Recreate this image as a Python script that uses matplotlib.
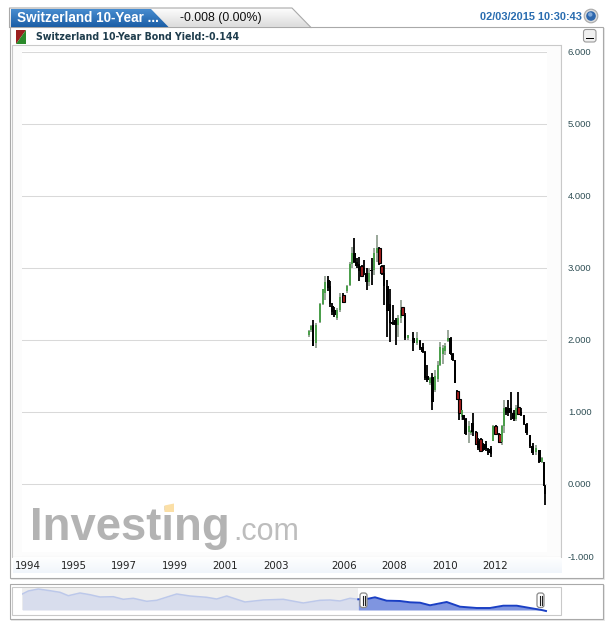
import numpy as np
import matplotlib
matplotlib.use('Agg')
import matplotlib.pyplot as plt
from matplotlib.patches import Rectangle, Polygon, Circle, FancyBboxPatch

W, H = 613, 627

# candle data, slot = horizontal position along the time axis
slots = [-0.7, 1, 3, 6, 10, 12.7, 15, 18.3, 20, 22.3, 24.3, 26.7, 30, 33.3, 36.7, 40, 42.3, 44.3, 46.7, 49,
         51.7, 54, 56.7, 59.3, 61.7, 64, 66.7, 69.3, 71.7, 74, 77.3, 80, 82.7, 85.7, 88.3, 91, 92.7, 95, 98.3, 103.3,
         106.7, 110, 112.7, 115, 117.3, 120, 122.3, 125, 127.7, 130, 132.7, 135, 138.3, 140.7, 142.7, 145, 147.3, 149.3, 151.7, 153.3,
         155.7, 159, 161, 162.7, 166, 168.3, 170.7, 173.3, 176, 178.3, 181, 183.3, 185.7, 189.3, 191.7, 193.7, 196, 198.3, 200.7, 203.7,
         206, 208.3, 211, 214, 216.7, 220, 222.7, 225.7, 229.3, 231.7, 234, 235]
highs = [2.14, 2.21, 2.28, 2.23, 2.51, 2.71, 2.88, 2.88, 2.81, 2.51, 2.46, 2.44, 2.65, 2.65, 2.76, 3.08, 3.29, 3.41, 3.13, 3.15,
         3.04, 3.11, 2.99, 2.99, 3.13, 3.27, 3.45, 3.29, 3.04, 3.04, 2.83, 2.71, 2.48, 2.30, 2.34, 2.55, 2.46, 2.37, 2.07, 2.11,
         2.11, 2.00, 1.95, 1.84, 1.65, 1.49, 1.54, 1.58, 1.70, 1.975, 1.93, 1.95, 2.14, 2.04, 1.81, 1.72, 1.31, 1.19, 1.03, 0.96,
         0.91, 0.87, 0.75, 0.98, 0.73, 0.635, 0.635, 0.57, 0.59, 0.50, 0.52, 0.82, 0.82, 0.70, 0.82, 1.17, 1.07, 1.17, 1.28, 1.03,
         1.10, 1.28, 1.05, 0.96, 0.84, 0.68, 0.57, 0.54, 0.47, 0.38, 0.31, -0.01]
lows = [2.04, 2.11, 1.93, 1.88, 2.23, 2.48, 2.55, 2.67, 2.46, 2.34, 2.32, 2.28, 2.39, 2.51, 2.65, 2.74, 3.00, 3.06, 2.99, 2.81,
        2.88, 2.90, 2.69, 2.74, 2.76, 2.90, 3.08, 3.04, 2.90, 2.48, 2.04, 1.97, 2.21, 1.93, 2.04, 2.23, 2.34, 2.00, 2.00, 1.84,
        1.93, 1.86, 1.81, 1.44, 1.42, 1.37, 1.03, 1.28, 1.42, 1.63, 1.67, 1.79, 1.975, 1.79, 1.70, 1.40, 1.17, 0.89, 0.89, 0.89,
        0.68, 0.57, 0.68, 0.66, 0.54, 0.47, 0.45, 0.45, 0.45, 0.40, 0.38, 0.59, 0.68, 0.57, 0.54, 0.70, 0.96, 0.94, 0.89, 0.87,
        0.87, 0.96, 0.94, 0.82, 0.68, 0.50, 0.40, 0.40, 0.29, 0.29, -0.035, -0.29]
opens = [2.07, 2.13, 2.20, 1.95, 2.25, 2.50, 2.65, 2.83, 2.75, 2.47, 2.42, 2.42, 2.42, 2.62, 2.67, 2.76, 3.05, 3.20, 3.08, 3.05,
         3.03, 3.00, 2.93, 2.80, 2.97, 2.97, 3.20, 3.28, 3.03, 2.92, 2.75, 2.50, 2.25, 2.28, 2.20, 2.30, 2.46, 2.35, 2.02, 2.02,
         1.95, 1.98, 1.90, 1.83, 1.50, 1.40, 1.49, 1.30, 1.45, 1.65, 1.80, 1.85, 1.98, 2.03, 1.80, 1.72, 1.29, 1.18, 0.93, 0.95,
         0.90, 0.72, 0.70, 0.85, 0.72, 0.60, 0.63, 0.55, 0.55, 0.49, 0.50, 0.60, 0.81, 0.69, 0.58, 0.80, 1.05, 1.05, 1.05, 0.98,
         0.90, 1.07, 1.00, 0.96, 0.83, 0.68, 0.52, 0.44, 0.47, 0.31, 0.31, -0.03]
closes = [2.12, 2.19, 1.92, 2.20, 2.50, 2.70, 2.80, 2.72, 2.50, 2.38, 2.35, 2.30, 2.60, 2.53, 2.74, 3.05, 3.20, 3.08, 3.03, 2.95,
          2.89, 2.93, 2.80, 2.92, 2.95, 3.20, 3.28, 3.06, 2.92, 2.75, 2.40, 2.23, 2.22, 2.20, 2.30, 2.42, 2.35, 2.03, 2.06, 1.95,
          2.03, 1.88, 1.83, 1.47, 1.44, 1.47, 1.14, 1.50, 1.65, 1.90, 1.88, 1.92, 2.03, 1.80, 1.72, 1.40, 1.18, 0.98, 1.02, 0.90,
          0.69, 0.80, 0.74, 0.72, 0.55, 0.50, 0.46, 0.47, 0.48, 0.43, 0.42, 0.80, 0.69, 0.58, 0.80, 1.05, 0.98, 0.98, 0.99, 0.90,
          1.05, 0.97, 0.96, 0.83, 0.70, 0.52, 0.43, 0.50, 0.31, 0.36, -0.03, -0.14]
kinds = list('ggkggggkkkkggrggg' 'kkkrkkgkggrrkkkkkggrkgkg' 'kkkkgkgggggg' 'kkkrrgkkggkrkrkkkkgrrggkkkkgrkkkkkgkgkk')

year_labels = ['1994', '1995', '1997', '1999', '2001', '2003', '2006', '2008', '2010', '2012']
year_slots = [-282, -236, -186, -135, -85, -34, 34, 84, 135, 185]
yield_ticks = [-1, 0, 1, 2, 3, 4, 5, 6]

# navigator strip: pixel column and height above its base
nav_x = [22.3, 28.3, 38.3, 50, 60, 68.3, 80, 90, 100, 113.3, 123.3, 133.3, 146.7, 156.7, 176.7, 190, 206.7, 216.7,
         226.7, 245, 263.3, 283.3, 303.3, 320, 330, 340, 350, 358.3, 368.3, 375, 386.7, 400, 410, 420, 430, 446.7,
         460, 476.7, 490, 503.3, 516.7, 530, 541.7, 546]
nav_h = [16, 19, 21, 19.3, 17.7, 14.3, 17, 15.3, 13, 13.3, 10.7, 11.7, 8.7, 9.7, 16, 14, 12.7, 11,
         14, 8, 10, 10.7, 7, 9.7, 10, 9, 11.7, 10.7, 11.3, 12.7, 9.3, 9, 7.7, 7.3, 4.7, 8,
         3.3, 2, 2, 4.3, 4.3, 2, 0, -1]


def px_axes(fig, left, top, right, bottom, **kw):
    return fig.add_axes([left / W, 1 - bottom / H, (right - left) / W, (bottom - top) / H], **kw)


def vgrad(ax, x0, x1, y0, y1, c_top, c_bot, zorder=1, clip=None):
    t = np.linspace(0, 1, 32)[:, None, None]
    img = (1 - t) * np.array(matplotlib.colors.to_rgb(c_top)) + t * np.array(matplotlib.colors.to_rgb(c_bot))
    im = ax.imshow(img, extent=(x0, x1, y1, y0), aspect='auto', zorder=zorder, interpolation='bilinear')
    if clip is not None:
        im.set_clip_path(clip)
    return im


fig = plt.figure(figsize=(W / 100, H / 100), dpi=100, facecolor='white')

# everything around the plot is drawn on one pixel-sized axes
bg = px_axes(fig, 0, 0, W, H, zorder=0)
bg.set_xlim(0, W)
bg.set_ylim(H, 0)
bg.axis('off')

# soft shadows and outer panels
for l, t, r, b in [(9.5, 27, 602.7, 578), (9.5, 584, 602.7, 618.7)]:
    bg.add_patch(Rectangle((l + 1, t + 1), r - l + 1, b - t + 1, fc='#e8e8e8', ec='none', zorder=1))
    bg.add_patch(Rectangle((l, t), r - l, b - t, fc='white', ec='#a9a9a9', lw=0.8, zorder=2))

# header tabs
tab_shape = [(9.5, 27.5), (9.5, 8), (292, 8), (311, 27.5)]
tab_bg = Polygon(tab_shape, closed=True, fc='none', ec='none', transform=bg.transData)
bg.add_patch(tab_bg)
vgrad(bg, 9.5, 311, 8, 27.5, '#ffffff', '#dcdcdc', zorder=3, clip=tab_bg)
bg.plot([9.5, 9.5, 292, 311], [27.5, 8, 8, 27.5], color='#a9a9a9', lw=0.8, zorder=4)
blue_shape = [(11, 27.5), (11, 9), (151, 9), (169, 27.5)]
tab_blue = Polygon(blue_shape, closed=True, fc='none', ec='none', transform=bg.transData)
bg.add_patch(tab_blue)
vgrad(bg, 11, 169, 9, 27.5, '#4a8fd2', '#1b5ea6', zorder=5, clip=tab_blue)
bg.set_xlim(0, W)
bg.set_ylim(H, 0)
bg.text(17, 18.5, 'Switzerland 10-Year ...', color='white', fontsize=9.75, fontweight='bold',
        family='Liberation Sans', va='center', ha='left', zorder=6)
bg.text(180, 18.5, '-0.008 (0.00%)', color='#111111', fontsize=8.9, family='Liberation Sans',
        va='center', ha='left', zorder=6)
bg.text(480, 17.5, '02/03/2015 10:30:43', color='#2a6db0', fontsize=7.9, fontweight='bold',
        family='Liberation Sans', va='center', ha='left', zorder=6)
bg.add_patch(Circle((591, 16), 6.8, fc='#dcdcdc', ec='#a9a9a9', lw=0.8, zorder=6))
bg.add_patch(Circle((591, 16), 4.8, fc='#2f68ad', ec='none', zorder=7))
bg.add_patch(Circle((590.3, 14.5), 2.2, fc='#7fa8d8', ec='none', zorder=8))

# legend row
bg.add_patch(Polygon([(16, 30), (26, 30), (16, 44)], closed=True, fc='#9b2020', ec='none', zorder=6))
bg.add_patch(Polygon([(26, 30), (26, 44), (16, 44)], closed=True, fc='#2b8a2b', ec='none', zorder=6))
bg.text(36, 36.5, 'Switzerland 10-Year Bond Yield:-0.144', color='#1f3d4d', fontsize=6.85, fontweight='bold',
        family='DejaVu Sans', va='center', ha='left', zorder=6)
bg.add_patch(FancyBboxPatch((583.5, 29.5), 12.5, 12.5, boxstyle='round,pad=0,rounding_size=2.5',
                            fc='#f0f0f0', ec='#9a9a9a', lw=0.8, zorder=6))
bg.add_patch(Rectangle((585.5, 37.5), 8.5, 1.8, fc='black', ec='none', zorder=7))

# main plot box and year strip
bg.add_patch(Rectangle((12.3, 45), 548.7, 512, fc='#fcfcfc', ec='#c9c9c9', lw=0.8, zorder=3))
bg.add_patch(Rectangle((22, 51), 525, 501, fc='white', ec='none', zorder=3))
vgrad(bg, 12.5, 600, 557.5, 573, '#ffffff', '#f0f5fb', zorder=3)
bg.add_patch(Rectangle((561.5, 45), 40.5, 528, fc='white', ec='none', zorder=3))
bg.plot([561, 561], [45, 557], color='#c9c9c9', lw=0.8, zorder=4)
bg.set_xlim(0, W)
bg.set_ylim(H, 0)

# watermark
bg.text(30, 540, 'Investing', color='#b3b3b3', fontsize=32.8, fontweight='bold', family='Liberation Sans',
        va='baseline', ha='left', zorder=4)
bg.text(233, 540, '.com', color='#bdbdbd', fontsize=22, family='Liberation Sans', va='baseline', ha='left', zorder=4)
bg.add_patch(Polygon([(164.5, 505.5), (174, 503.5), (174, 512), (164.5, 512)], closed=True, fc='#fbdfa6', ec='none', zorder=5))

# candles
ax = px_axes(fig, 22, 51.5, 547, 556, zorder=2)
ax.patch.set_alpha(0)
ax.set_xlim(-288, 237)
ax.set_ylim(-1, 6)
for s in ax.spines.values():
    s.set_visible(False)
ax.set_yticks(yield_ticks)
ax.set_yticklabels([f'{v:.3f}' for v in yield_ticks], fontsize=6.8, color='#2f4f55', family='Liberation Sans')
ax.yaxis.tick_right()
ax.tick_params(axis='y', length=0, pad=15)
ax.set_xticks(year_slots)
ax.set_xticklabels(year_labels, fontsize=7.4, color='#222222', family='DejaVu Sans')
ax.tick_params(axis='x', length=0, pad=3.5)
ax.grid(True, axis='y', color='#d9d9d9', lw=0.75)
ax.set_axisbelow(True)

wick_colors = {'k': 'black', 'r': 'black', 'g': '#7f8f7f'}
wick_widths = {'k': 1.3, 'r': 1.3, 'g': 1.1}
for x, hi, lo, op, cl, kind in zip(slots, highs, lows, opens, closes, kinds):
    ax.vlines(x, lo, hi, color=wick_colors[kind], lw=wick_widths[kind], zorder=3)
    bottom = min(op, cl)
    height = abs(op - cl)
    if kind == 'g':
        ax.bar(x, height, width=1.8, bottom=bottom, color='#4c9f4c', lw=0, zorder=4)
    elif kind == 'r':
        ax.bar(x, height, width=2.6, bottom=bottom, color='#a31c1c', edgecolor='black', lw=0.8, zorder=4)
    else:
        ax.bar(x, height, width=2.8, bottom=bottom, color='black', lw=0, zorder=4)

# navigator
bg.add_patch(Rectangle((12.3, 587), 548.7, 27.5, fc='white', ec='#c9c9c9', lw=0.8, zorder=3))
nav = px_axes(fig, 22, 587.5, 546, 610, zorder=2)
nav.set_xlim(22, 546)
nav.set_ylim(0, 22.5)
nav.axis('off')
nav_x = np.array(nav_x)
nav_h = np.array(nav_h)
left = nav_x <= 358.3
right = nav_x >= 358.3
nav.add_patch(Rectangle((22, 0), 336.3, 22.5, fc='#eeeeee', ec='none', zorder=1))
nav.fill_between(nav_x[left], 0, nav_h[left], color='#d8dded', lw=0, zorder=2)
nav.plot(nav_x[left], nav_h[left], color='#bcc8ea', lw=1.1, zorder=3)
nav.fill_between(nav_x[right], 0, nav_h[right], color='#7f95e0', lw=0, zorder=2)
nav.plot(nav_x[right], nav_h[right], color='#1a3fc4', lw=1.4, zorder=3, clip_on=False)

# slider handles go on top of the navigator
top = px_axes(fig, 0, 0, W, H, zorder=3)
top.set_xlim(0, W)
top.set_ylim(H, 0)
top.axis('off')
top.patch.set_alpha(0)
for hx in [363.5, 540.5]:
    top.add_patch(FancyBboxPatch((hx - 3.5, 593), 7, 14.5, boxstyle='round,pad=0,rounding_size=2.5',
                                 fc='white', ec='#8a8a8a', lw=0.9))
    top.plot([hx - 1, hx - 1], [595.5, 605], color='#222222', lw=0.8)
    top.plot([hx + 1, hx + 1], [595.5, 605], color='#222222', lw=0.8)

fig.savefig('out.png', dpi=100, facecolor='white')
plt.close(fig)
